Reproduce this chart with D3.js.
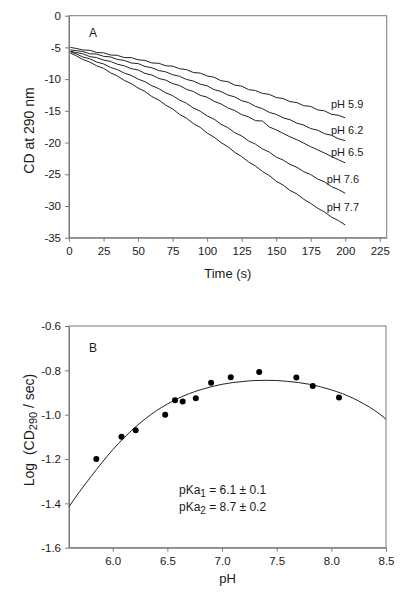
<!DOCTYPE html>
<html>
<head>
<meta charset="utf-8">
<script src="https://cdn.jsdelivr.net/npm/d3@7"></script>
<style>
  html, body { margin: 0; padding: 0; background: #fff; }
  svg { display: block; font-family: "Liberation Sans", Arial, sans-serif; }
</style>
</head>
<body>
<svg id="chart" width="406" height="600"></svg>
<script>
// ---------- Panel A data ----------
const times = [1,5,10,15,20,25,30,35,40,45,50,55,60,65,70,75,80,85,90,95,100,
               105,110,115,120,125,130,135,140,145,150,155,160,165,170,175,180,185,190,195,200];
const seriesLabels = ["pH 5.9", "pH 6.2", "pH 6.5", "pH 7.6", "pH 7.7"];
const cd_pH59 = [-5.0,-5.15,-5.4,-5.45,-5.8,-5.85,-6.2,-6.25,-6.6,-6.6,-6.95,-7.05,-7.45,-7.5,-7.9,-7.95,-8.35,-8.5,-8.95,-9.05,-9.5,
                 -9.7,-10.25,-10.4,-10.95,-11.1,-11.65,-11.8,-12.25,-12.4,-12.9,-13.05,-13.55,-13.7,-14.2,-14.3,-14.85,-15.0,-15.55,-15.7,-16.1];
const cd_pH62 = [-5.4,-5.5,-5.65,-6.0,-6.05,-6.4,-6.5,-6.9,-7.05,-7.45,-7.55,-8.0,-8.2,-8.65,-8.85,-9.3,-9.55,-10.05,-10.3,-10.8,-11.05,
                 -11.65,-11.95,-12.5,-12.8,-13.4,-13.7,-14.3,-14.65,-15.25,-15.55,-16.1,-16.4,-16.95,-17.25,-17.8,-18.05,-18.6,-18.85,-19.4,-19.7];
const cd_pH65 = [-5.6,-5.8,-6.0,-6.45,-6.6,-7.0,-7.2,-7.65,-7.9,-8.35,-8.55,-9.1,-9.35,-9.9,-10.15,-10.7,-11.0,-11.6,-11.95,-12.55,-12.85,
                 -13.5,-13.9,-14.55,-14.95,-15.6,-15.95,-16.55,-16.6,-17.55,-18.0,-18.55,-19.1,-19.55,-20.1,-20.65,-21.15,-21.65,-22.2,-22.7,-23.2];
const cd_pH76 = [-5.7,-6.0,-6.5,-6.8,-7.3,-7.6,-8.15,-8.5,-9.05,-9.4,-10.0,-10.4,-11.05,-11.5,-12.15,-12.6,-13.3,-13.8,-14.55,-15.05,-15.8,
                 -16.3,-17.1,-17.65,-18.45,-18.95,-19.75,-20.25,-21.0,-21.5,-22.3,-22.75,-23.45,-23.9,-24.6,-25.05,-25.75,-26.2,-26.95,-27.4,-28.0];
const cd_pH77 = [-5.9,-6.3,-6.9,-7.3,-7.9,-8.3,-9.0,-9.5,-10.2,-10.7,-11.4,-11.95,-12.75,-13.3,-14.1,-14.7,-15.55,-16.15,-17.0,-17.6,-18.5,
                 -19.15,-20.0,-20.65,-21.55,-22.2,-23.05,-23.7,-24.55,-25.2,-26.1,-26.7,-27.55,-28.1,-28.95,-29.6,-30.35,-30.95,-31.75,-32.3,-33.0];
const xTicksA = [0,25,50,75,100,125,150,175,200,225];
const yTicksA = [0,-5,-10,-15,-20,-25,-30,-35];

// ---------- Panel B data ----------
const pointPH   = [5.85, 6.08, 6.21, 6.48, 6.57, 6.64, 6.76, 6.90, 7.08, 7.34, 7.68, 7.83, 8.07];
const pointLogR = [-1.20,-1.10,-1.07,-1.00,-0.935,-0.94,-0.926,-0.856,-0.831,-0.807,-0.832,-0.871,-0.923];
const fitPH   = [5.6,5.7,5.8,5.9,6.0,6.1,6.2,6.3,6.4,6.5,6.6,6.7,6.8,6.9,7.0,7.1,7.2,7.3,7.4,
                 7.5,7.6,7.7,7.8,7.9,8.0,8.1,8.2,8.3,8.4,8.5];
const fitLogR = [-1.415,-1.345,-1.28,-1.217,-1.158,-1.106,-1.059,-1.018,-0.982,-0.952,-0.926,-0.905,-0.888,-0.874,-0.863,-0.855,-0.850,-0.846,-0.845,
                 -0.846,-0.850,-0.855,-0.863,-0.874,-0.888,-0.905,-0.926,-0.952,-0.982,-1.02];
const xTicksB = [6.0,6.5,7.0,7.5,8.0,8.5];
const yTicksB = [-0.6,-0.8,-1.0,-1.2,-1.4,-1.6];

const svg = d3.select("#chart");
const AXIS = "#7a7a7a";
const TXT = "#1a1a1a";
const hy = f => (d => f(d).replace("\u2212", "-"));

function styleAxis(g) {
  g.select(".domain").attr("stroke", AXIS);
  g.selectAll(".tick line").attr("stroke", AXIS);
  g.selectAll(".tick text").attr("fill", TXT).style("font-size", "11.5px")
    .style("font-family", "'Liberation Sans', Arial, sans-serif");
}

// ---------- Panel A ----------
const A = {l: 69, r: 386.7, t: 15.7, b: 237.7};
const xA = d3.scaleLinear().domain([0, 230]).range([A.l, A.r]);
const yA = d3.scaleLinear().domain([-35, 0]).range([A.b, A.t]);

svg.append("rect").attr("x", A.l).attr("y", A.t).attr("width", A.r - A.l).attr("height", A.b - A.t)
  .attr("fill", "none").attr("stroke", AXIS);

svg.append("g").attr("transform", `translate(0,${A.b})`)
  .call(d3.axisBottom(xA).tickValues(xTicksA).tickSize(4).tickPadding(5).tickSizeOuter(0))
  .call(styleAxis);
svg.append("g").attr("transform", `translate(${A.l},0)`)
  .call(d3.axisLeft(yA).tickValues(yTicksA).tickSize(4).tickPadding(4).tickSizeOuter(0).tickFormat(hy(d3.format("d"))))
  .call(styleAxis);

const seriesA = [cd_pH59, cd_pH62, cd_pH65, cd_pH76, cd_pH77];
const lineA = d3.line().x((d, i) => xA(times[i])).y(d => yA(d));
svg.append("g").selectAll("path").data(seriesA).join("path")
  .attr("d", d => lineA(d)).attr("fill", "none").attr("stroke", "#222").attr("stroke-width", 1);

const labelPos = [[331, 108.3], [331, 133.5], [331, 156], [326.7, 183], [326.7, 210.5]];
svg.append("g").selectAll("text").data(seriesLabels).join("text")
  .attr("x", (d, i) => labelPos[i][0]).attr("y", (d, i) => labelPos[i][1])
  .attr("fill", TXT).style("font-size", "11px").text(d => d);

svg.append("text").attr("x", 89).attr("y", 37).attr("fill", TXT).style("font-size", "12px").text("A");

svg.append("text").attr("x", (A.l + A.r) / 2).attr("y", 278).attr("text-anchor", "middle")
  .attr("fill", TXT).style("font-size", "13px").text("Time (s)");
svg.append("text").attr("transform", "translate(34,130.5) rotate(-90)").attr("text-anchor", "middle")
  .attr("fill", TXT).style("font-size", "14px").text("CD at 290 nm");

// ---------- Panel B ----------
const B = {l: 69, r: 386, t: 326, b: 547.7};
const xB = d3.scaleLinear().domain([5.6, 8.5]).range([B.l, B.r]);
const yB = d3.scaleLinear().domain([-1.6, -0.6]).range([B.b, B.t]);

svg.append("rect").attr("x", B.l).attr("y", B.t).attr("width", B.r - B.l).attr("height", B.b - B.t)
  .attr("fill", "none").attr("stroke", AXIS);

svg.append("g").attr("transform", `translate(0,${B.b})`)
  .call(d3.axisBottom(xB).tickValues(xTicksB).tickSize(4).tickPadding(5).tickSizeOuter(0).tickFormat(d3.format(".1f")))
  .call(styleAxis);
svg.append("g").attr("transform", `translate(${B.l},0)`)
  .call(d3.axisLeft(yB).tickValues(yTicksB).tickSize(4).tickPadding(4).tickSizeOuter(0).tickFormat(hy(d3.format(".1f"))))
  .call(styleAxis);

const lineB = d3.line().x((d, i) => xB(fitPH[i])).y(d => yB(d)).curve(d3.curveMonotoneX);
svg.append("path").attr("d", lineB(fitLogR)).attr("fill", "none").attr("stroke", "#222").attr("stroke-width", 1);

svg.append("g").selectAll("circle").data(pointPH).join("circle")
  .attr("cx", d => xB(d)).attr("cy", (d, i) => yB(pointLogR[i])).attr("r", 3).attr("fill", "#000");

svg.append("text").attr("x", 89).attr("y", 352).attr("fill", TXT).style("font-size", "12px").text("B");

const pk = svg.append("g").attr("fill", TXT).style("font-size", "12px");
const t1 = pk.append("text").attr("x", 179).attr("y", 494);
t1.append("tspan").text("pKa");
t1.append("tspan").attr("dy", 3).style("font-size", "10px").text("1");
t1.append("tspan").attr("dy", -3).text(" = 6.1 ± 0.1");
const t2 = pk.append("text").attr("x", 179).attr("y", 511);
t2.append("tspan").text("pKa");
t2.append("tspan").attr("dy", 3).style("font-size", "10px").text("2");
t2.append("tspan").attr("dy", -3).text(" = 8.7 ± 0.2");

svg.append("text").attr("x", (B.l + B.r) / 2).attr("y", 582.5).attr("text-anchor", "middle")
  .attr("fill", TXT).style("font-size", "13px").text("pH");
const yt = svg.append("text").attr("transform", "translate(34,430) rotate(-90)").attr("text-anchor", "middle")
  .attr("fill", TXT).style("font-size", "14px");
yt.append("tspan").text("Log\u00a0\u00a0(CD");
yt.append("tspan").attr("dy", 3).style("font-size", "11px").text("290");
yt.append("tspan").attr("dy", -3).text(" / sec)");
</script>
</body>
</html>
